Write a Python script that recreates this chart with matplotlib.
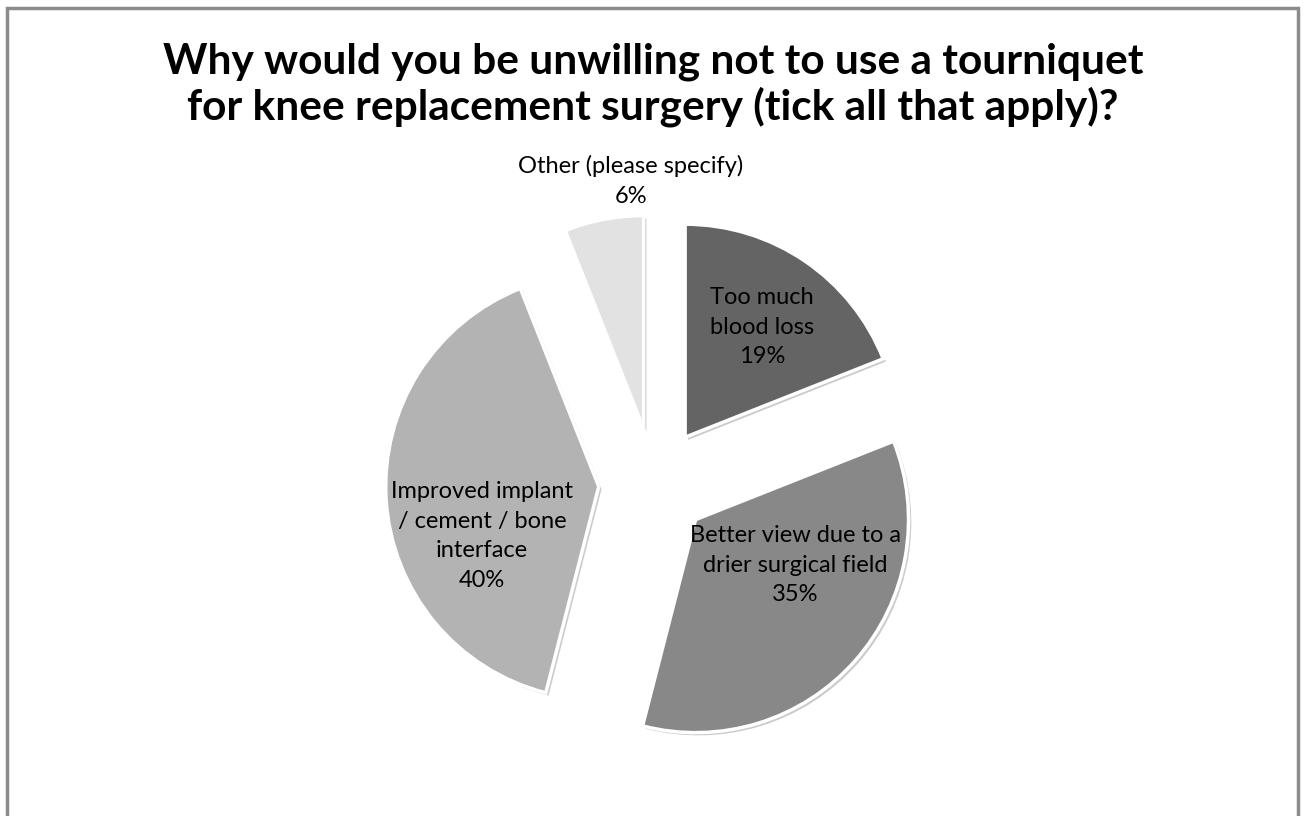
import matplotlib.pyplot as plt
from matplotlib.patches import Rectangle
import matplotlib.patheffects as pe

# slices clockwise from 12 o'clock
labels = ["Too much\nblood loss", "Better view due to a\ndrier surgical field",
          "Improved implant\n/ cement / bone\ninterface", "Other (please specify)"]
shares = [19, 35, 40, 6]
colors = ["#646464", "#888888", "#b3b3b3", "#e2e2e2"]

W, H = 1306, 816
fig = plt.figure(figsize=(W / 100, H / 100), dpi=100)
ax = fig.add_axes([0, 0, 1, 1])

cx, cy, r = 654, H - 483, 213
explode = [0.26 * r] * len(shares)  # pie adds explode in data units
wedges, _ = ax.pie(shares, colors=colors, startangle=90, counterclock=False,
                   center=(cx, cy), radius=r, explode=explode,
                   wedgeprops=dict(edgecolor="white", linewidth=2.5), frame=True)
for w in wedges:
    w.set_path_effects([pe.SimplePatchShadow(offset=(2, -2), shadow_rgbFace="#999999", alpha=0.5),
                        pe.Normal()])
ax.set_xlim(0, W)
ax.set_ylim(0, H)
ax.set_aspect("equal")
ax.axis("off")

font = "Lato"
# label positions (pixels from top-left)
label_pos = [(762, 327), (795, 565), (482, 536), (631, 181)]
for lab, s, (x, y) in zip(labels, shares, label_pos):
    ax.text(x, H - y, f"{lab}\n{s}%", ha="center", va="center", fontsize=17,
            family=font, color="#000000", linespacing=1.5)

fig.text(0.5, 1 - 85 / H, "Why would you be unwilling not to use a tourniquet\n"
         "for knee replacement surgery (tick all that apply)?",
         ha="center", va="center", fontsize=30.5, fontweight="bold", family=font,
         linespacing=1.15)

ax.add_patch(Rectangle((7, -20), 1291, H - 8 + 20, fill=False,
                       edgecolor="#8c8c8c", linewidth=2.5, clip_on=False))

fig.savefig("out.png", dpi=100)
